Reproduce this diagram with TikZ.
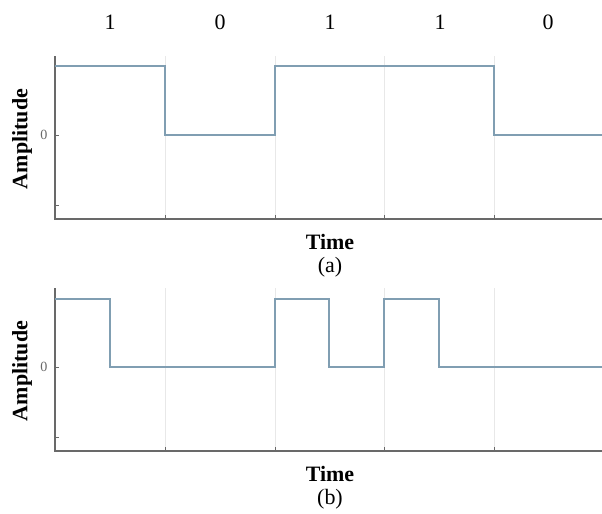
\documentclass[tikz,border=0pt]{standalone}
\usepackage{fontspec}
\setmainfont{Liberation Serif}
\usepackage{xcolor}
\usetikzlibrary{positioning,calc}

\definecolor{sigblue}{RGB}{128,158,178}
\definecolor{axgray}{RGB}{105,105,105}
\definecolor{gridgray}{RGB}{232,232,232}

\tikzset{
  axline/.style={draw=axgray, line width=0.8pt},
  gridline/.style={draw=gridgray, line width=0.5pt},
  signal/.style={draw=sigblue, line width=0.85pt, line join=miter},
  bitlabel/.style={font=\fontsize{12.5}{14}\selectfont},
  axlabel/.style={font=\fontsize{12.5}{14}\selectfont\bfseries},
  ticklabel/.style={font=\fontsize{8}{9}\selectfont, text=axgray}
}

\begin{document}
\begin{tikzpicture}[x=0.02cm, y=-0.02cm]
    \useasboundingbox (0,0) rectangle (602,514);

    % Bit labels
    \foreach \b/\x [count=\i] in {1/110, 0/220, 1/330, 1/440, 0/548}
        \node [bitlabel] (bit\i) at (\x,22) {\b};

    % Two panels
    \foreach \p/\dy in {a/0, b/232} {
    \begin{scope}[shift={(0,\dy)}]
        % grid
        \foreach \x in {165,275,384,494}
            \draw [gridline] (\x,56) -- (\x,219);
        % axes
        \draw [axline] (55,56) -- (55,219) -- (602,219);
        \foreach \x in {165,275,384,494}
            \draw [axline, line width=0.5pt] (\x,219) -- (\x,215);
        \foreach \y in {135,205}
            \draw [axline, line width=0.5pt] (55,\y) -- (59,\y);
        \node [ticklabel] (zero\p) at (44,135) {0};
        % labels
        \node [axlabel, rotate=90] (amp\p) at (22,139) {Amplitude};
        \node [axlabel] (time\p) at (330,242) {Time};
        \node [bitlabel, below=-3pt of time\p] (cap\p) {(\p)};
    \end{scope}
    }

    % NRZ signal
    \draw [signal] (55,66) -- (165,66) -- (165,135) -- (275,135) -- (275,66)
        -- (494,66) -- (494,135) -- (602,135);

    % RZ signal
    \draw [signal] (55,299) -- (110,299) -- (110,367) -- (275,367) -- (275,299)
        -- (329,299) -- (329,367) -- (384,367) -- (384,299) -- (439,299)
        -- (439,367) -- (602,367);
\end{tikzpicture}
\end{document}
